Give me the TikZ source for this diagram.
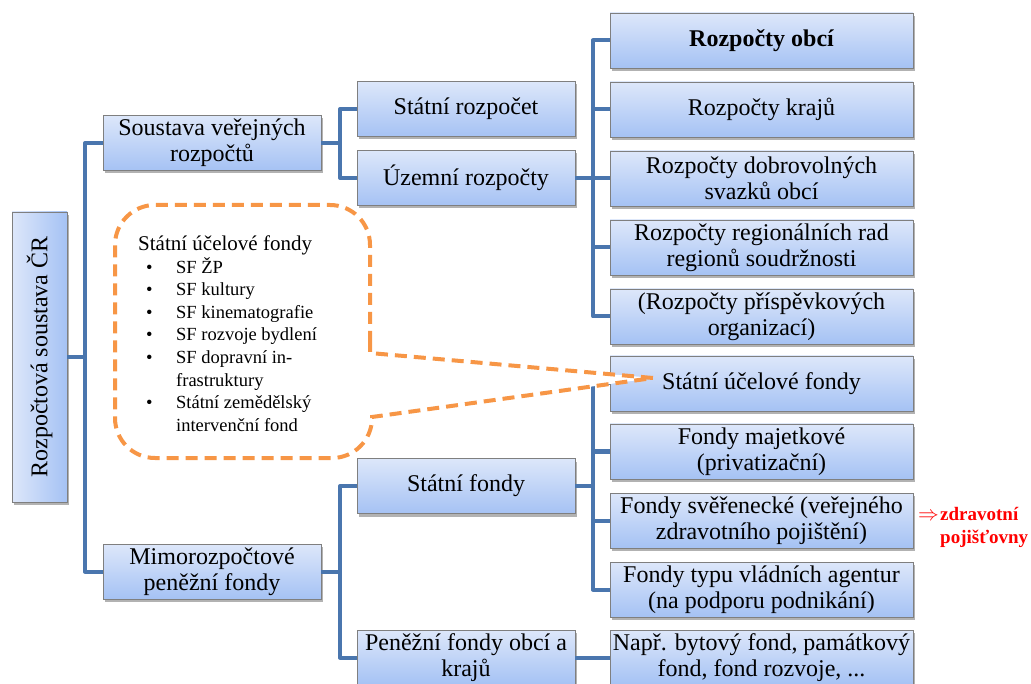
\documentclass[tikz,border=0pt]{standalone}
\usepackage{fontspec}
\setmainfont{Liberation Serif}
\usetikzlibrary{shadows}
\definecolor{boxtop}{HTML}{DDE7FA}
\definecolor{boxbot}{HTML}{A5C2F4}
\definecolor{boxline}{HTML}{7F7F7F}
\definecolor{conncol}{HTML}{4A76AE}
\definecolor{orangec}{HTML}{F79646}
\definecolor{redc}{HTML}{FF0000}
\begin{document}
\begin{tikzpicture}[x=1pt,y=-1pt,
  box/.style={draw=boxline, line width=0.8pt, top color=boxtop, bottom color=boxbot,
    align=center, inner sep=0pt, font=\fontsize{24}{26}\selectfont,
    drop shadow={shadow xshift=2pt, shadow yshift=-3pt, opacity=0.3, fill=black}},
  rbox/.style={box, minimum width=303pt, minimum height=55pt},
  mbox/.style={box, minimum width=218pt, minimum height=55pt},
  conn/.style={draw=conncol, line width=4pt, line join=round},
  callout/.style={draw=orangec, line width=4pt, dash pattern=on 12pt off 7pt, fill=white},
  listtext/.style={align=left, inner sep=0pt, font=\fontsize{18.5}{22.6}\selectfont},
  note/.style={align=left, inner sep=0pt, text=redc, font=\bfseries\fontsize{19}{23}\selectfont}]
\useasboundingbox (0,0) rectangle (1031,684);

% boxes
\node[box, minimum width=55pt, minimum height=290pt, left color=boxtop, right color=boxbot] (root) at (39.5,357) {\rotatebox{90}{Rozpočtová soustava ČR}};
\node[mbox] (sv) at (212,143) {Soustava veřejných\\rozpočtů};
\node[mbox] (mf) at (212,571.5) {Mimorozpočtové\\peněžní fondy};
\node[mbox] (sr) at (466,109) {Státní rozpočet};
\node[mbox] (ur) at (466,178) {Územní rozpočty};
\node[mbox] (sf) at (466,486) {Státní fondy};
\node[mbox] (pf) at (466,657.5) {Peněžní fondy obcí a\\krajů};

\node[rbox] (r1) at (761.5,40.5) {\bfseries Rozpočty obcí};
\node[rbox] (r2) at (761.5,109.5) {Rozpočty krajů};
\node[rbox] (r3) at (761.5,178.5) {Rozpočty dobrovolných\\svazků obcí};
\node[rbox] (r4) at (761.5,247.5) {Rozpočty regionálních rad\\regionů soudržnosti};
\node[rbox] (r5) at (761.5,316.5) {(Rozpočty příspěvkových\\organizací)};
\node[rbox] (r6) at (761.5,383.5) {Státní účelové fondy};
\node[rbox] (r7) at (761.5,451.5) {Fondy majetkové\\(privatizační)};
\node[rbox] (r8) at (761.5,520.5) {Fondy svěřenecké (veřejného\\zdravotního pojištění)};
\node[rbox] (r9) at (761.5,589.5) {Fondy typu vládních agentur\\(na podporu podnikání)};
\node[rbox] (r10) at (761.5,657.5) {Např. bytový fond, památkový\\fond, fond rozvoje, ...};

% connector trunks
\coordinate (t1) at (85,0);
\coordinate (t2) at (340,0);
\coordinate (t3) at (593,0);

\draw[conn] (root.east) -- (root.east -| t1);
\draw[conn] (sv.west) -- (sv.west -| t1) -- (mf.west -| t1) -- (mf.west);

\draw[conn] (sv.east) -- (sv.east -| t2);
\draw[conn] (sr.west) -- (sr.west -| t2) -- (ur.west -| t2) -- (ur.west);
\draw[conn] (ur.east) -- (ur.east -| t3);
\draw[conn] (r1.west) -- (r1.west -| t3) -- (r5.west -| t3) -- (r5.west);
\draw[conn] (r2.west -| t3) -- (r2.west);
\draw[conn] (r3.west -| t3) -- (r3.west);
\draw[conn] (r4.west -| t3) -- (r4.west);

\draw[conn] (mf.east) -- (mf.east -| t2);
\draw[conn] (sf.west) -- (sf.west -| t2) -- (pf.west -| t2) -- (pf.west);
\draw[conn] (sf.east) -- (sf.east -| t3);
\draw[conn] (r6.west) -- (r6.west -| t3) -- (r9.west -| t3) -- (r9.west);
\draw[conn] (r7.west -| t3) -- (r7.west);
\draw[conn] (r8.west -| t3) -- (r8.west);
\draw[conn] (pf.east) -- (r10.west);

% callout
\coordinate (tip) at (653,378);
\draw[callout] (370,300) -- (370,353) -- (tip) -- (372,417)
  [rounded corners=40pt] -- (372,458) -- (115,458) -- (115,205) -- (370,205) -- cycle;

\node[listtext, anchor=north west] (list) at (138,235.5) {%
{\fontsize{21}{22.6}\selectfont Státní účelové fondy}\\
\makebox[38pt][l]{\hspace{8pt}\textbullet}SF ŽP\\
\makebox[38pt][l]{\hspace{8pt}\textbullet}SF kultury\\
\makebox[38pt][l]{\hspace{8pt}\textbullet}SF kinematografie\\
\makebox[38pt][l]{\hspace{8pt}\textbullet}SF rozvoje bydlení\\
\makebox[38pt][l]{\hspace{8pt}\textbullet}SF dopravní in-\\
\hspace*{38pt}frastruktury\\
\makebox[38pt][l]{\hspace{8pt}\textbullet}Státní zemědělský\\
\hspace*{38pt}intervenční fond};

% red note
\node[note, anchor=west] (zp) at (918,527) {\makebox[22pt][l]{\scalebox{1.2}{$\Rightarrow$}}zdravotní\\\hspace*{22pt}pojišťovny};
\end{tikzpicture}
\end{document}
